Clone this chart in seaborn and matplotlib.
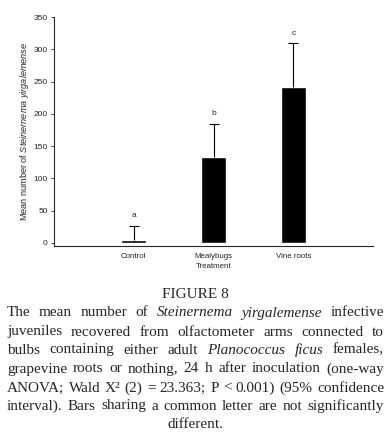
import matplotlib
matplotlib.use('Agg')
import matplotlib.pyplot as plt
import seaborn as sns
import pandas as pd

# values
treatments = ['Control', 'Mealybugs', 'Vine roots']
means = [4, 133, 241]
upper_err = [22, 51, 68]
letters = ['a', 'b', 'c']

caption_title = 'FIGURE 8'
caption_lines = [
    [('The', 0), ('mean', 0), ('number', 0), ('of', 0), ('Steinernema', 1), ('yirgalemense', 1), ('infective', 0)],
    [('juveniles', 0), ('recovered', 0), ('from', 0), ('olfactometer', 0), ('arms', 0), ('connected', 0), ('to', 0)],
    [('bulbs', 0), ('containing', 0), ('either', 0), ('adult', 0), ('Planococcus', 1), ('ficus', 1), ('females,', 0)],
    [('grapevine', 0), ('roots', 0), ('or', 0), ('nothing,', 0), ('24', 0), ('h', 0), ('after', 0), ('inoculation', 0), ('(one-way', 0)],
    [('ANOVA;', 0), ('Wald', 0), ('X\u00b2', 0), ('(2)', 0), ('=', 0), ('23.363;', 0), ('P', 0), ('<', 0), ('0.001)', 0), ('(95%', 0), ('confidence', 0)],
    [('interval).', 0), ('Bars', 0), ('sharing', 0), ('a', 0), ('common', 0), ('letter', 0), ('are', 0), ('not', 0), ('significantly', 0)],
]
caption_last = 'different.'

sns.set_style('ticks')
plt.rcParams['font.family'] = ['Liberation Sans', 'DejaVu Sans']
plt.rcParams['mathtext.fontset'] = 'custom'
plt.rcParams['mathtext.it'] = 'Liberation Sans:italic'
plt.rcParams['mathtext.rm'] = 'Liberation Sans'

W, H = 391, 437
fig = plt.figure(figsize=(W / 100, H / 100), dpi=100)
ax = fig.add_axes([54 / W, 1 - 246 / H, 319 / W, 229 / H])

df = pd.DataFrame({'treatment': treatments, 'mean': means})
sns.barplot(data=df, x='treatment', y='mean', color='black', width=0.31,
            errorbar=None, saturation=1, ax=ax)
eb = ax.errorbar(range(len(means)), means, yerr=[[0] * len(means), upper_err],
                 fmt='none', ecolor='black', elinewidth=0.8, capsize=3.5, capthick=0.8)
# only the upper cap is drawn in the original
eb[1][0].set_visible(False)
for i, lab in enumerate(letters):
    ax.annotate(lab, (i, means[i] + upper_err[i]), xytext=(0, 5),
                textcoords='offset points', ha='center', va='bottom', fontsize=6)

ax.set_xlim(-1, 3)
ax.set_ylim(-5, 350)
ax.set_yticks(range(0, 351, 50))
sns.despine(ax=ax)
ax.spines['left'].set_linewidth(0.8)
ax.spines['bottom'].set_linewidth(0.8)
ax.tick_params(axis='y', labelsize=6, length=2.5, width=0.6, pad=2)
ax.tick_params(axis='x', labelsize=5.7, length=0, pad=5)
ax.set_xlabel('Treatment', fontsize=5.7, labelpad=2)
ax.set_ylabel(r'Mean number of $\mathit{Steinernema\ yirgalemense}$', fontsize=6.6, labelpad=1.5)

# caption, justified like the journal text
cap_font = dict(family=['Liberation Serif', 'DejaVu Serif'], fontsize=11)
fig.text(195 / W, 1 - 295 / H, caption_title, ha='center', va='center', **cap_font)
renderer = fig.canvas.get_renderer()
x0, x1 = 7, 384
line_y = [313, 332, 350, 369, 388, 406]
for words, y in zip(caption_lines, line_y):
    texts = []
    for w, it in words:
        t = fig.text(0, 1 - y / H, w, ha='left', va='center',
                     style='italic' if it else 'normal', **cap_font)
        texts.append(t)
    widths = [t.get_window_extent(renderer).width for t in texts]
    gap = (x1 - x0 - sum(widths)) / (len(texts) - 1)
    x = x0
    for t, wd in zip(texts, widths):
        t.set_x(x / W)
        x += wd + gap
fig.text(195 / W, 1 - 424 / H, caption_last, ha='center', va='center', **cap_font)

fig.savefig('out.png', dpi=100)
